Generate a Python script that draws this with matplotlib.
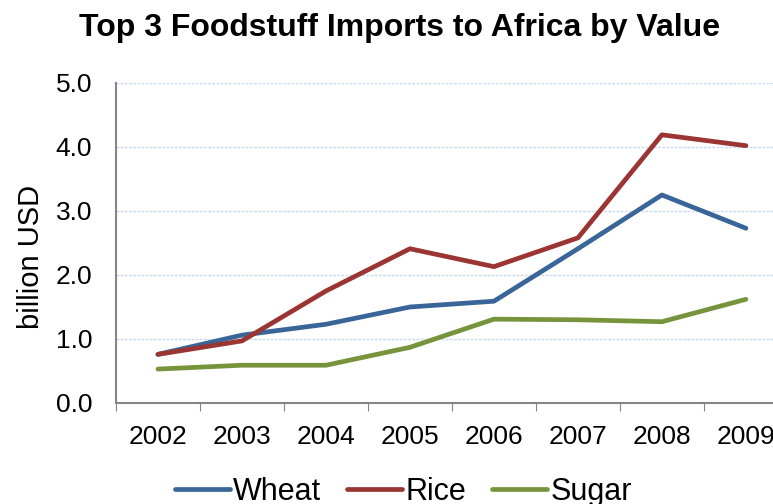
import matplotlib.pyplot as plt

years = ["2002", "2003", "2004", "2005", "2006", "2007", "2008", "2009"]
wheat = [0.76, 1.06, 1.23, 1.50, 1.59, 2.41, 3.25, 2.73]
rice = [0.76, 0.97, 1.75, 2.41, 2.13, 2.58, 4.19, 4.02]
sugar = [0.53, 0.59, 0.59, 0.87, 1.31, 1.30, 1.27, 1.62]

plt.rcParams['font.family'] = ['Liberation Sans', 'DejaVu Sans']

fig = plt.figure(figsize=(7.73, 5.04), dpi=100)
ax = fig.add_axes([0.150, 0.2004, 0.8693, 0.635])

x = range(len(years))
ax.plot(x, wheat, color="#3A6598", lw=3.4, label="Wheat", solid_capstyle="round")
ax.plot(x, rice, color="#9B3533", lw=3.4, label="Rice", solid_capstyle="round")
ax.plot(x, sugar, color="#77933C", lw=3.4, label="Sugar", solid_capstyle="round")

ax.set_xlim(-0.5, len(years) - 0.5)
ax.set_ylim(0, 5)
ax.set_yticks([0, 1, 2, 3, 4, 5])
ax.set_yticklabels([f"{v:.1f}" for v in range(6)], fontsize=19)
ax.set_xticks([i - 0.5 for i in range(len(years) + 1)])
ax.set_xticklabels([])
for i, yr in enumerate(years):
    ax.text(i, -0.53, yr, ha="center", va="center", fontsize=19,
            transform=ax.transData, clip_on=False)
ax.tick_params(axis="x", length=6, color="#868686", direction="out")
ax.tick_params(axis="y", length=0, pad=17)

ax.yaxis.grid(True, color="#C9DAEE", linestyle=(0, (2, 1)), lw=1)
ax.set_axisbelow(True)
for s in ["top", "right"]:
    ax.spines[s].set_visible(False)
for s in ["left", "bottom"]:
    ax.spines[s].set_color("#868686")
    ax.spines[s].set_linewidth(1.5)

ax.set_ylabel("billion USD", fontsize=21)
ax.yaxis.set_label_coords(-0.106, 0.456)

fig.text(0.517, 0.944, "Top 3 Foodstuff Imports to Africa by Value",
         ha="center", va="center", fontsize=23, fontweight="bold")

fig.legend(loc="center", bbox_to_anchor=(0.522, 0.024), ncol=3, frameon=False,
           fontsize=22, handlelength=1.8, handletextpad=0.1, columnspacing=0.85)

fig.savefig("out.png", dpi=100)
